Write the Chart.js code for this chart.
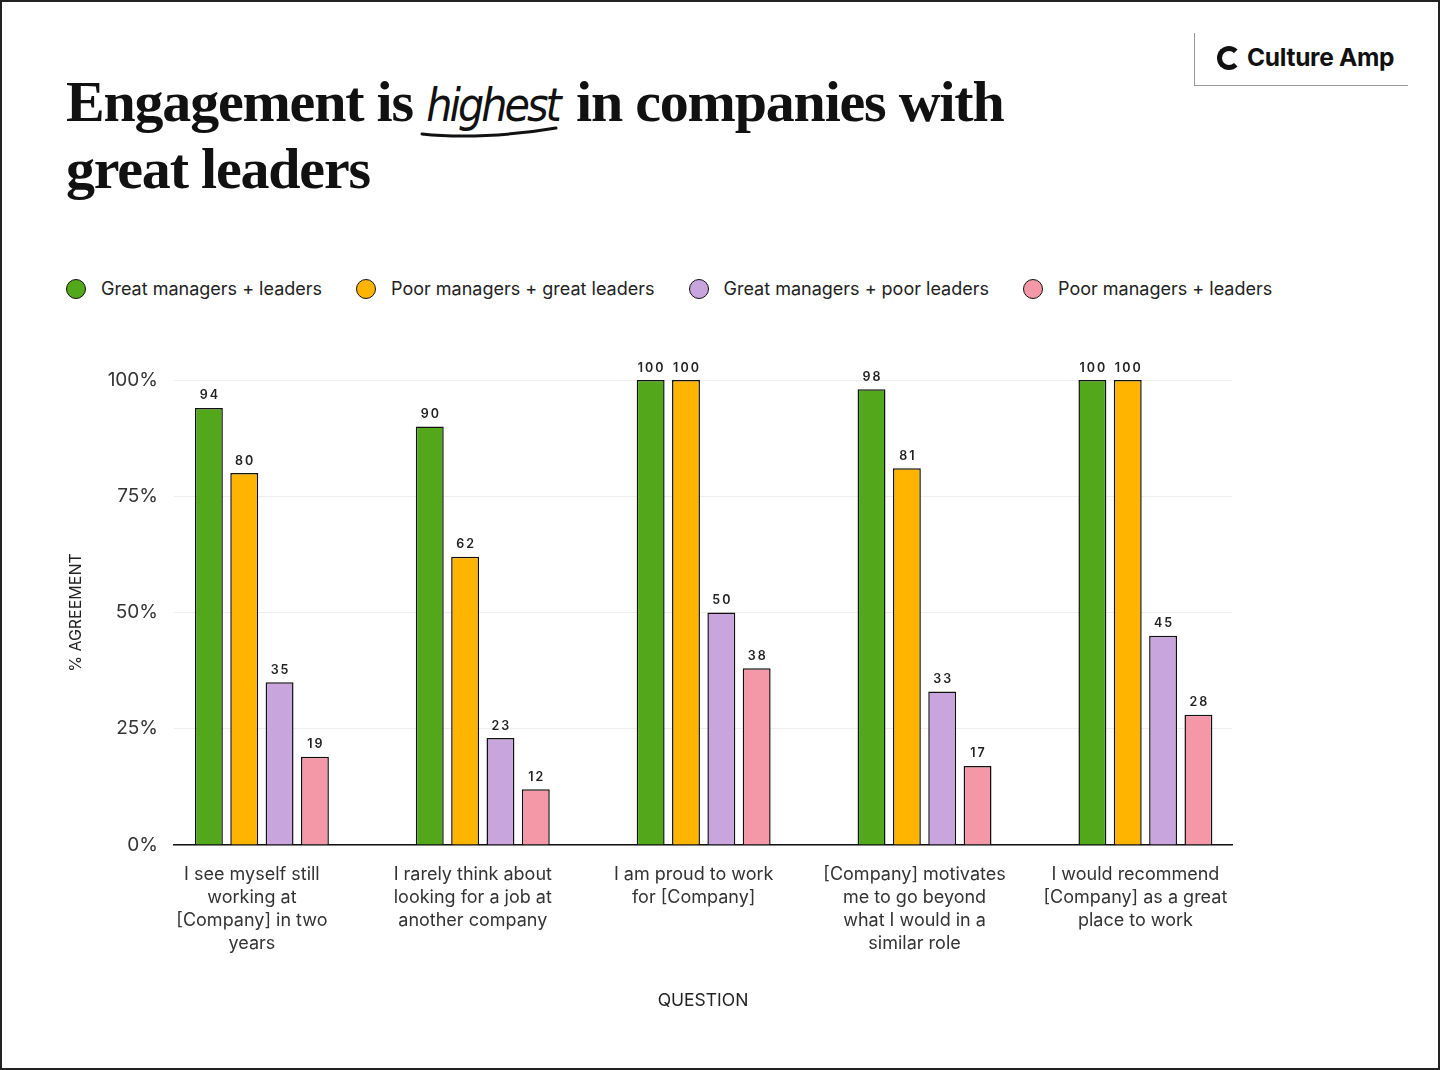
<!DOCTYPE html>
<html>
<head>
<meta charset="utf-8">
<script src="https://cdn.jsdelivr.net/npm/chart.js"></script>
<style>
  html, body { margin: 0; padding: 0; background: #fff; }
  .page {
    position: relative; width: 1440px; height: 1070px; overflow: hidden;
    font-family: Inter, sans-serif; color: #222;
  }
  .page::after {
    content: ''; position: absolute; inset: 0; border: 2px solid #222; pointer-events: none;
  }
  .title {
    position: absolute; left: 66px; top: 70px; margin: 0;
    font-family: 'Liberation Serif', serif; font-weight: 700; font-size: 58px;
    line-height: 64px; letter-spacing: -1.2px; color: #111;
  }
  .title .hand {
    position: relative; font-weight: 400; font-style: italic; letter-spacing: -3px;
    font-family: 'DejaVu Sans Condensed', 'DejaVu Sans', sans-serif; font-size: 46px;
    margin-right: 4px;
  }
  .title .hand svg { position: absolute; left: -6px; bottom: -8px; }
  .logo {
    position: absolute; left: 1194px; top: 33px; width: 213px; height: 52px;
    border-left: 1px solid #999; border-bottom: 1px solid #999;
  }
  .logo .mark {
    position: absolute; left: 22px; top: 13px; width: 14px; height: 14px;
    border: 5px solid #111; border-right-color: transparent; border-radius: 50%;
  }
  .logo .word {
    position: absolute; left: 52px; top: 9px; font-weight: 700; font-size: 24.5px;
    letter-spacing: -0.3px; color: #111;
  }
  .legend { position: absolute; left: 66px; top: 278px; display: flex; gap: 34px; }
  .legend .item { display: flex; align-items: center; font-size: 18px; color: #222; }
  .legend .dot {
    width: 18px; height: 18px; border-radius: 50%; border: 1.5px solid #111; margin-right: 15px;
  }
  #chartWrap { position: absolute; left: 0; top: 331px; width: 1440px; height: 700px; }
</style>
</head>
<body>
<div class="page">
  <h1 class="title">Engagement is <span class="hand">highest<svg width="140" height="16" viewBox="0 0 140 16"><path d="M2 10 C 40 14, 90 12, 136 4" stroke="#111" stroke-width="3" fill="none" stroke-linecap="round"/></svg></span> in companies with<br>great leaders</h1>
  <div class="logo"><div class="mark"></div><div class="word">Culture Amp</div></div>
  <div class="legend" id="legend"></div>
  <div id="chartWrap"><canvas id="chart"></canvas></div>
</div>
<script>
const questions = [
  ['I see myself still', 'working at', '[Company] in two', 'years'],
  ['I rarely think about', 'looking for a job at', 'another company'],
  ['I am proud to work', 'for [Company]'],
  ['[Company] motivates', 'me to go beyond', 'what I would in a', 'similar role'],
  ['I would recommend', '[Company] as a great', 'place to work'],
];
const seriesNames = ['Great managers + leaders', 'Poor managers + great leaders', 'Great managers + poor leaders', 'Poor managers + leaders'];
const seriesColors = ['#52A81A', '#FFB500', '#C9A5DE', '#F498A8'];
const greatBoth = [94, 90, 100, 98, 100];
const poorManagersGreatLeaders = [80, 62, 100, 81, 100];
const greatManagersPoorLeaders = [35, 23, 50, 33, 45];
const poorBoth = [19, 12, 38, 17, 28];
const yTicks = [0, 25, 50, 75, 100];

const seriesValues = [greatBoth, poorManagersGreatLeaders, greatManagersPoorLeaders, poorBoth];

document.getElementById('legend').innerHTML = seriesNames
  .map((name, i) => `<div class="item"><span class="dot" style="background:${seriesColors[i]}"></span>${name}</div>`)
  .join('');

const valueLabels = {
  id: 'valueLabels',
  afterDatasetsDraw(chart) {
    const ctx = chart.ctx;
    ctx.save();
    ctx.font = '600 12.5px Inter';
    ctx.letterSpacing = '2px';
    ctx.fillStyle = '#222';
    ctx.textAlign = 'center';
    ctx.textBaseline = 'bottom';
    chart.data.datasets.forEach((ds, di) => {
      chart.getDatasetMeta(di).data.forEach((bar, i) => {
        ctx.fillText(String(ds.data[i].y), bar.x + 1, bar.y - 6);
      });
    });
    ctx.restore();
  },
};

Chart.defaults.font.family = 'Inter';
Chart.defaults.color = '#222';

new Chart(document.getElementById('chart'), {
  type: 'bar',
  data: {
    datasets: seriesValues.map((values, i) => ({
      label: seriesNames[i],
      data: values.map((v, q) => ({ x: q, y: v })),
      backgroundColor: seriesColors[i],
      borderColor: '#111',
      borderWidth: 1.5,
      borderSkipped: 'bottom',
      categoryPercentage: 0.64,
      barPercentage: 0.79,
    })),
  },
  options: {
    responsive: true,
    maintainAspectRatio: false,
    animation: false,
    layout: { padding: { top: 49, right: 208, left: 0, bottom: 0 } },
    plugins: { legend: { display: false }, tooltip: { enabled: false } },
    scales: {
      x: {
        type: 'linear',
        offset: false,
        bounds: 'data',
        min: -0.398,
        max: 4.392,
        afterBuildTicks: (scale) => { scale.ticks = questions.map((q, i) => ({ value: i })); },
        afterFit: (scale) => { scale.height = 186; },
        grid: { display: false, drawTicks: false },
        border: { display: true, color: '#111', width: 1.5 },
        ticks: {
          autoSkip: false,
          maxRotation: 0,
          padding: 18,
          labelOffset: -10,
          color: '#333',
          font: { size: 18, lineHeight: 1.28 },
          callback: (value) => questions[value],
        },
        title: { display: true, text: 'QUESTION', color: '#222', font: { size: 17.5 }, padding: { top: 0, bottom: 20 } },
      },
      y: {
        min: 0,
        max: 100,
        afterBuildTicks: (scale) => { scale.ticks = yTicks.map((v) => ({ value: v })); },
        afterFit: (scale) => { scale.width = 174; },
        grid: { color: '#eeeeee', lineWidth: 1, drawTicks: false },
        border: { display: false },
        ticks: { padding: 16, color: '#333', font: { size: 19 }, callback: (v) => `${v}%` },
        title: { display: true, text: '% AGREEMENT', color: '#222', font: { size: 16 }, padding: { top: 67 } },
      },
    },
  },
  plugins: [valueLabels],
});
</script>
</body>
</html>
